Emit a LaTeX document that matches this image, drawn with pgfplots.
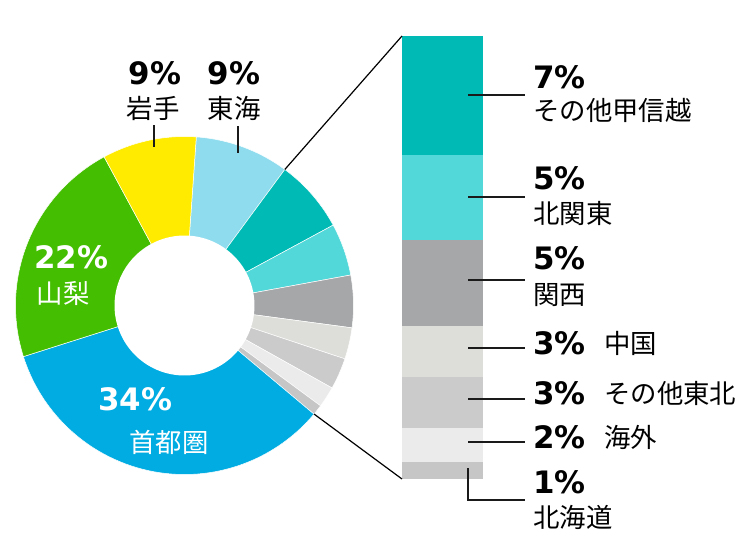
\documentclass[border=0pt]{standalone}
\usepackage{pgfplots}
\pgfplotsset{compat=1.18}
\usepackage{fontspec}
\setmainfont{Noto Sans CJK JP}
\newfontfamily\pctfont{DejaVu Sans}
\definecolor{cShu}{HTML}{00ACE2}
\definecolor{cYam}{HTML}{44BE00}
\definecolor{cIwa}{HTML}{FFEB00}
\definecolor{cTok}{HTML}{8EDCEE}
\definecolor{cKos}{HTML}{00BAB5}
\definecolor{cKit}{HTML}{53D8D9}
\definecolor{cKan}{HTML}{A6A7A9}
\definecolor{cChu}{HTML}{DDDED9}
\definecolor{cToh}{HTML}{CBCBCB}
\definecolor{cKai}{HTML}{EBEBEB}
\definecolor{cHok}{HTML}{C6C6C6}
\definecolor{lead}{HTML}{1A1A1A}
\newcommand\pct[1]{{\pctfont\bfseries\fontsize{31}{31}\selectfont #1\%}}
\newcommand\jp[1]{{\fontsize{26.5}{27}\selectfont #1}}
% donut slice: #1 cumulative percent before, #2 percent, #3 colour
\newcommand\slice[3]{%
  \pgfmathsetmacro\sa{4+3.6*#1}%
  \pgfmathsetmacro\sb{4+3.6*(#1+#2)}%
  \edef\tmp{\noexpand\addplot[fill=#3, draw=white, line width=0.5bp, domain=\sa:\sb, samples=60, variable=\noexpand\t]
    ({184.5+169*sin(\noexpand\t)}, {305.5-169*cos(\noexpand\t)}) -- (axis cs:184.5,305.5) -- cycle;}%
  \tmp}
% bar segment: #1 cumulative percent above, #2 percent, #3 colour
\newcommand\seg[3]{%
  \pgfmathsetmacro\ya{36+17.04*#1}%
  \pgfmathsetmacro\yb{36+17.04*(#1+#2)}%
  \edef\tmp{\noexpand\addplot[fill=#3, draw=none] coordinates {(402,\ya) (483,\ya) (483,\yb) (402,\yb)} -- cycle;}%
  \tmp}
\begin{document}
\begin{tikzpicture}
\begin{axis}[
  width=750bp, height=534bp, scale only axis,
  xmin=0, xmax=750, ymin=0, ymax=534, y dir=reverse,
  hide axis, clip=false]
\path (axis cs:0,0) rectangle (axis cs:750,534);
% donut (percent values, clockwise from top)
\slice{0}{9}{cTok}   % 東海
\slice{9}{7}{cKos}   % その他甲信越
\slice{16}{5}{cKit}  % 北関東
\slice{21}{5}{cKan}  % 関西
\slice{26}{3}{cChu}  % 中国
\slice{29}{3}{cToh}  % その他東北
\slice{32}{2}{cKai}  % 海外
\slice{34}{1}{cHok}  % 北海道
\slice{35}{34}{cShu} % 首都圏
\slice{69}{22}{cYam} % 山梨
\slice{91}{9}{cIwa}  % 岩手
\addplot[fill=white, draw=none, domain=0:360, samples=120, variable=\t]
  ({184.5+70*sin(\t)}, {305.5-70*cos(\t)}) -- cycle;
% breakout bar
\seg{0}{7}{cKos}
\seg{7}{5}{cKit}
\seg{12}{5}{cKan}
\seg{17}{3}{cChu}
\seg{20}{3}{cToh}
\seg{23}{2}{cKai}
\seg{25}{1}{cHok}
% connector lines
\addplot[black, line width=1.2bp] coordinates {(284.8,169.5) (402,36)};
\addplot[black, line width=1.2bp] coordinates {(314,414) (402,479)};
% leader lines
\addplot[lead, line width=1.3bp] coordinates {(154,125) (154,147)};
\addplot[lead, line width=1.3bp] coordinates {(238,126) (238,153)};
\addplot[lead, line width=1.3bp] coordinates {(468,95) (525,95)};
\addplot[lead, line width=1.3bp] coordinates {(468,197) (525,197)};
\addplot[lead, line width=1.3bp] coordinates {(468,280) (525,280)};
\addplot[lead, line width=1.3bp] coordinates {(468,348) (525,348)};
\addplot[lead, line width=1.3bp] coordinates {(468,399) (525,399)};
\addplot[lead, line width=1.3bp] coordinates {(468,442) (525,442)};
\addplot[lead, line width=1.3bp] coordinates {(468,468) (468,500) (525,500)};
% labels on/around donut
\node[inner sep=0] at (axis cs:155,73) {\pct{9}};
\node[inner sep=0] at (axis cs:153,108) {\jp{岩手}};
\node[inner sep=0] at (axis cs:234,73) {\pct{9}};
\node[inner sep=0] at (axis cs:234,108) {\jp{東海}};
\node[inner sep=0, text=white] at (axis cs:71,257) {\pct{22}};
\node[inner sep=0, text=white] at (axis cs:63,293) {\jp{山梨}};
\node[inner sep=0, text=white] at (axis cs:135,399) {\pct{34}};
\node[inner sep=0, text=white] at (axis cs:169,442) {\jp{首都圏}};
% labels of the bar
\node[inner sep=0, anchor=west] at (axis cs:533,77) {\pct{7}};
\node[inner sep=0, anchor=west] at (axis cs:533,110) {\jp{その他甲信越}};
\node[inner sep=0, anchor=west] at (axis cs:533,178) {\pct{5}};
\node[inner sep=0, anchor=west] at (axis cs:533,213) {\jp{北関東}};
\node[inner sep=0, anchor=west] at (axis cs:533,258) {\pct{5}};
\node[inner sep=0, anchor=west] at (axis cs:533,295) {\jp{関西}};
\node[inner sep=0, anchor=west] at (axis cs:533,343) {\pct{3}};
\node[inner sep=0, anchor=west] at (axis cs:604,343) {\jp{中国}};
\node[inner sep=0, anchor=west] at (axis cs:533,393) {\pct{3}};
\node[inner sep=0, anchor=west] at (axis cs:604,393) {\jp{その他東北}};
\node[inner sep=0, anchor=west] at (axis cs:533,437) {\pct{2}};
\node[inner sep=0, anchor=west] at (axis cs:604,437) {\jp{海外}};
\node[inner sep=0, anchor=west] at (axis cs:533,482) {\pct{1}};
\node[inner sep=0, anchor=west] at (axis cs:533,517) {\jp{北海道}};
\end{axis}
\end{tikzpicture}
\end{document}
